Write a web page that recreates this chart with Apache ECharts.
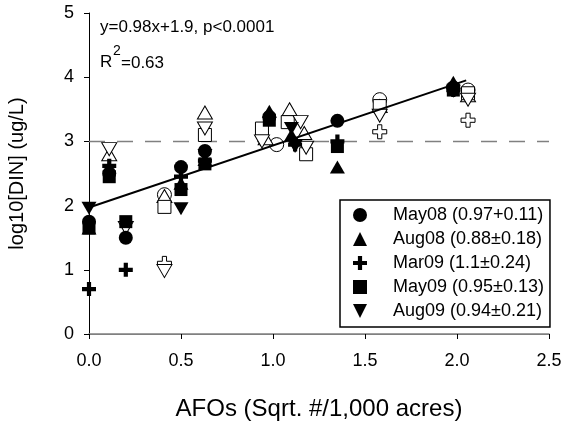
<!DOCTYPE html>
<html><head><meta charset="utf-8">
<script src="https://cdn.jsdelivr.net/npm/echarts@6/dist/echarts.min.js"></script>
<style>html,body{margin:0;padding:0;background:#fff}#c{width:567px;height:427px}</style>
</head><body><div id="c"></div>
<script>
// ---- data ----
const seriesNames = ['May08 (0.97+0.11)', 'Aug08 (0.88\u00b10.18)', 'Mar09 (1.1\u00b10.24)', 'May09 (0.95\u00b10.13)', 'Aug09 (0.94\u00b10.21)'];
// filled symbols
const may08 = [[0,1.75],[0.11,2.5],[0.2,1.5],[0.5,2.6],[0.63,2.85],[0.98,3.38],[1.35,3.32],[1.98,3.84]];
const aug08 = [[0,1.65],[0.5,2.35],[0.63,2.72],[0.98,3.47],[1.1,3.1],[1.35,2.6],[1.98,3.92]];
const mar09 = [[0,0.7],[0.11,2.62],[0.2,1.0],[0.5,2.45],[0.63,2.7],[1.12,2.95],[1.35,3.0],[1.98,3.8]];
const may09 = [[0,1.65],[0.11,2.45],[0.2,1.75],[0.5,2.25],[0.63,2.65],[0.98,3.33],[1.35,2.92],[1.98,3.8]];
const aug09 = [[0,1.96],[0.5,1.95],[0.63,2.78],[1.1,3.2],[1.12,2.92],[1.98,3.78]];
// open symbols
const may08o = [[0.41,2.17],[1.02,2.95],[1.58,3.65],[2.06,3.8]];
const aug08o = [[0.11,2.8],[0.41,2.15],[0.63,3.45],[0.96,3.05],[1.09,3.5],[1.17,3.13],[1.58,3.55],[2.06,3.72]];
const mar09o = [[0.41,1.1],[1.58,3.15],[2.06,3.33]];
const may09o = [[0.41,1.98],[0.63,3.1],[0.94,3.2],[1.08,3.3],[1.18,2.8],[1.58,3.55],[2.06,3.75]];
const aug09o = [[0.11,2.88],[0.2,1.65],[0.41,0.98],[0.63,3.2],[0.94,3.0],[1.15,3.3],[1.18,2.9],[1.58,3.4],[2.06,3.65]];
// regression and reference
const fitLine = [[0,1.97],[2.05,3.95]];
const refLine = [[0,3],[2.5,3]];
const eqText = 'y=0.98x+1.9, p<0.0001';
const r2Text = '=0.63';
const xName = 'AFOs (Sqrt. #/1,000 acres)';
const yName = 'log10[DIN] (ug/L)';

// ---- chart ----
const FONT = 'Liberation Sans, Arial, sans-serif';
const PLUS = 'path://M35,0H65V35H100V65H65V100H35V65H0V35H35Z';
const DOWN = 'path://M0,0L100,0L50,100Z';
const symbols = ['circle', 'triangle', PLUS, 'rect', DOWN];
const sizes = [14, [15,13], 14, 13, [15,13]];
const filled = [may08, aug08, mar09, may09, aug09];
const open = [may08o, aug08o, mar09o, may09o, aug09o];

const series = [];
series.push({type:'line', data: refLine, symbol:'none', silent:true, z:1,
  lineStyle:{color:'#808080', width:1.5, type:[16,12]}});
open.forEach((d,i) => series.push({
  name: 'open'+i, type:'scatter', data:d, symbol:symbols[i], symbolSize:sizes[i], z:2,
  itemStyle:{color:'#fff', borderColor:'#000', borderWidth:1, opacity:1}
}));
filled.forEach((d,i) => series.push({
  name: seriesNames[i], type:'scatter', data:d, symbol:symbols[i], symbolSize:sizes[i], z:3,
  itemStyle:{color:'#000', opacity:1}
}));
series.push({type:'line', data: fitLine, symbol:'none', silent:true, z:4,
  lineStyle:{color:'#000', width:2}});

const chart = echarts.init(document.getElementById('c'), null, {renderer:'canvas'});
chart.setOption({
  animation:false,
  backgroundColor:'#fff',
  textStyle:{fontFamily:FONT},
  grid:{left:89, right:18, top:13, bottom:93, outerBoundsMode:'none'},
  xAxis:[{
    type:'value', min:0, max:2.5, interval:0.5,
    name:xName, nameLocation:'middle', nameGap:63,
    nameTextStyle:{fontSize:24, color:'#000', fontFamily:FONT},
    axisLine:{show:true, onZero:false, lineStyle:{color:'#808080', width:1.5}},
    axisTick:{show:true, inside:false, length:5, lineStyle:{color:'#000'}},
    axisLabel:{fontSize:18, color:'#000', margin:18, fontFamily:FONT, formatter:v=>v.toFixed(1)},
    splitLine:{show:false}
  },{
    type:'value', position:'top', min:0, max:2.5,
    axisLine:{show:true, lineStyle:{color:'#808080', width:1}},
    axisTick:{show:false}, axisLabel:{show:false}, splitLine:{show:false}
  }],
  yAxis:{
    type:'value', min:0, max:5, interval:1,
    name:yName, nameLocation:'middle', nameGap:62, nameRotate:90,
    nameTextStyle:{fontSize:20, color:'#000', fontFamily:FONT},
    axisLine:{show:true, onZero:false, lineStyle:{color:'#000', width:1}},
    axisTick:{show:true, inside:false, length:5, lineStyle:{color:'#000'}},
    axisLabel:{fontSize:18, color:'#000', margin:15, fontFamily:FONT},
    splitLine:{show:false}
  },
  legend:{
    data: seriesNames, orient:'vertical', left:340, top:200,
    itemWidth:14, itemHeight:14, itemGap:6,
    padding:[6,6,7,13],
    borderColor:'#000', borderWidth:1.5, backgroundColor:'#fff',
    textStyle:{fontSize:18, color:'#000', fontFamily:FONT, padding:[0,0,0,21]},
    selectedMode:false
  },
  graphic:[
    {type:'text', left:100, top:19, style:{text:eqText, font:'17px '+FONT, fill:'#000'}},
    {type:'text', left:100, top:54, style:{text:'R', font:'17px '+FONT, fill:'#000'}},
    {type:'text', left:113, top:44, style:{text:'2', font:'14px '+FONT, fill:'#000'}},
    {type:'text', left:121, top:55, style:{text:r2Text, font:'17px '+FONT, fill:'#000'}}
  ],
  series
});
</script></body></html>
